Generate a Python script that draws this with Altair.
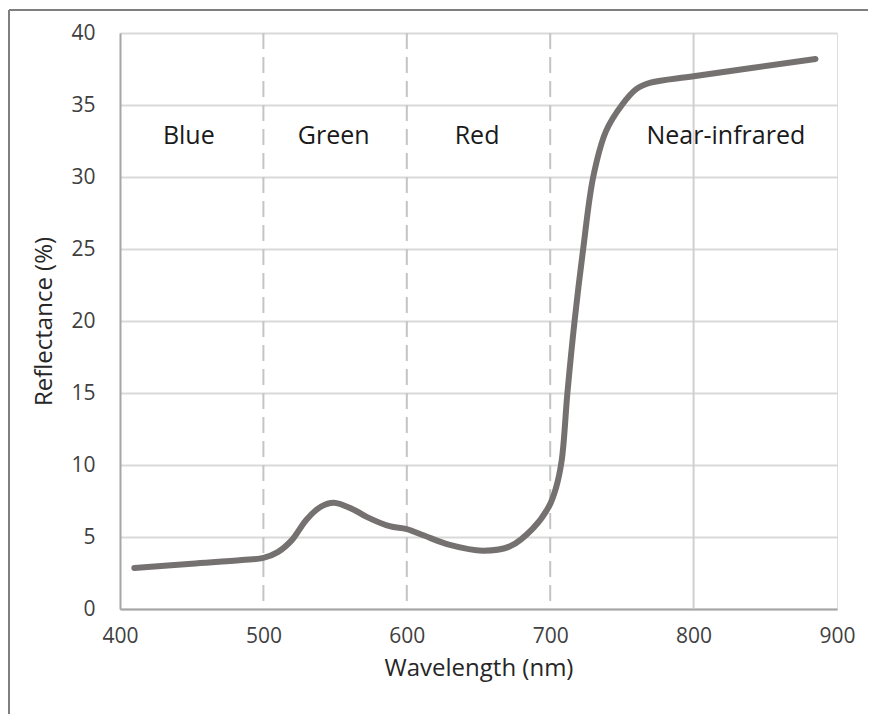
import altair as alt
import pandas as pd

# Spectral reflectance curve
wavelength = [410, 450, 485, 500, 510, 520, 525, 530, 540, 549, 563, 572, 588, 600, 612, 630,
              653, 672, 688, 699, 704, 708, 712, 717, 723, 730, 739, 750, 760, 770,
              800, 885]
reflectance = [2.85, 3.15, 3.4, 3.55, 3.95, 4.8, 5.5, 6.2, 7.1, 7.38, 6.9, 6.4, 5.75, 5.55, 5.1, 4.45,
               4.05, 4.35, 5.6, 7.1, 8.4, 10.3, 15.0, 20.0, 25.0, 30.0, 33.2, 35.0, 36.1, 36.55,
               37.0, 38.2]

# Band labels
band_names = ["Blue", "Green", "Red", "Near-infrared"]
band_x = [448, 549, 649, 822.5]
band_y = [32.3, 32.3, 32.3, 32.3]

# Band separators
dashed_lines = [500, 600, 700]
solid_lines = [800]

x_ticks = [400, 500, 600, 700, 800, 900]
y_ticks = [0, 5, 10, 15, 20, 25, 30, 35, 40]

FONT = "Open Sans"

curve = pd.DataFrame({"wl": wavelength, "r": reflectance})
bands = pd.DataFrame({"name": band_names, "wl": band_x, "r": band_y})
dashed = pd.DataFrame({"wl": dashed_lines})
solid = pd.DataFrame({"wl": solid_lines})

xscale = alt.Scale(domain=[400, 900], nice=False, zero=False)
yscale = alt.Scale(domain=[0, 40], nice=False)

xaxis = alt.Axis(values=x_ticks, grid=False, ticks=False, title="Wavelength (nm)",
                 labelFontSize=21, labelPadding=16, labelColor="#404040", labelFlush=False,
                 titleFontSize=24, titleFontWeight="normal", titleColor="#262626",
                 titlePadding=10, domainColor="#a6a6a6", domainWidth=2,
                 labelFont=FONT, titleFont=FONT)
yaxis = alt.Axis(values=y_ticks, grid=True, gridColor="#d9d9d9", gridWidth=2, ticks=False,
                 title="Reflectance (%)", labelFontSize=21, labelPadding=25,
                 labelColor="#404040", titleFontSize=24, titleFontWeight="normal",
                 titleColor="#262626", titlePadding=14, domainColor="#a6a6a6",
                 domainWidth=2, labelFont=FONT, titleFont=FONT, labelFlush=False)

base_line = alt.Chart(curve).mark_line(
    color="#767171", strokeWidth=6, interpolate="catmull-rom", strokeCap="round"
).encode(
    x=alt.X("wl:Q", scale=xscale, axis=xaxis),
    y=alt.Y("r:Q", scale=yscale, axis=yaxis),
)

dash_rules = alt.Chart(dashed).mark_rule(
    color="#c4c4c4", strokeWidth=2, strokeDash=[16, 8]
).encode(x=alt.X("wl:Q", scale=xscale))

solid_rules = alt.Chart(solid).mark_rule(
    color="#d0d0d0", strokeWidth=2
).encode(x=alt.X("wl:Q", scale=xscale))

labels = alt.Chart(bands).mark_text(
    fontSize=25, font=FONT, color="#1a1a1a", baseline="alphabetic", align="center"
).encode(
    x=alt.X("wl:Q", scale=xscale),
    y=alt.Y("r:Q", scale=yscale),
    text="name:N",
)

border_left = alt.Chart(curve).mark_rule(color="#7f7f7f", strokeWidth=2).encode(
    x=alt.value(-111), y=alt.value(-23), y2=alt.value(700)
)
border_top = alt.Chart(curve).mark_rule(color="#7f7f7f", strokeWidth=2).encode(
    x=alt.value(-111), x2=alt.value(760), y=alt.value(-23)
)

chart = alt.layer(
    dash_rules, solid_rules, base_line, labels, border_left, border_top
).properties(
    width=717, height=576,
    autosize=alt.AutoSizeParams(type="none"),
    padding={"left": 112, "top": 25, "right": 31, "bottom": 105},
).configure_view(
    stroke="#b0b0b0", strokeWidth=2
).configure(background="white")

chart.save("out.html", embed_options={"renderer": "svg", "actions": False})
